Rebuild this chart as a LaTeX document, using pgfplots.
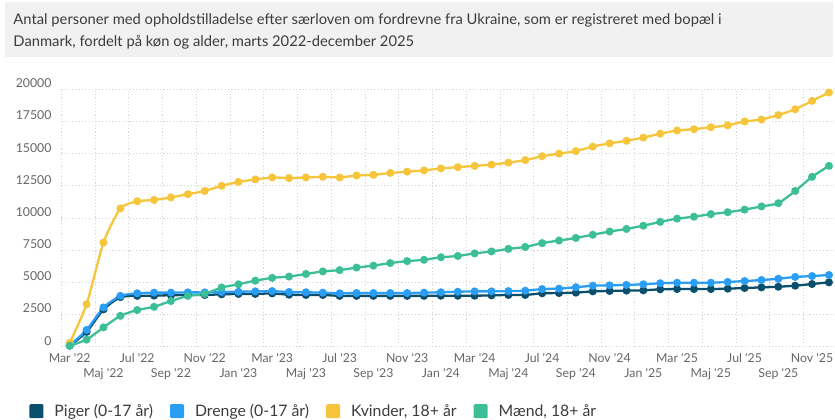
\documentclass[border=0pt]{standalone}
\usepackage{fontspec}
\setmainfont{Lato}
\usepackage{pgfplots}
\pgfplotsset{compat=1.18}
\usepackage{pgfplotstable}
\definecolor{piger}{RGB}{11,79,108}
\definecolor{drenge}{RGB}{42,157,244}
\definecolor{kvinder}{RGB}{246,197,60}
\definecolor{maend}{RGB}{60,190,151}
\definecolor{titlebg}{RGB}{241,241,241}
\definecolor{titletext}{RGB}{60,60,60}
\definecolor{tickc}{RGB}{102,102,102}
\definecolor{gridc}{RGB}{215,215,215}
\newcommand{\q}{\textquotesingle}
\pgfplotstableread{
x piger drenge kvinder maend
0 80 100 300 80
1 1150 1300 3300 550
2 2900 3050 8100 1500
3 3850 3950 10750 2400
4 3950 4150 11300 2850
5 3970 4200 11400 3100
6 4000 4200 11600 3550
7 4020 4220 11850 3950
8 4020 4220 12100 4100
9 4070 4250 12500 4600
10 4100 4270 12800 4850
11 4100 4300 13000 5130
12 4140 4320 13150 5350
13 4040 4250 13100 5450
14 4020 4230 13150 5650
15 4020 4200 13200 5850
16 3950 4150 13150 5950
17 3950 4170 13300 6150
18 3950 4170 13350 6300
19 3950 4170 13500 6500
20 3950 4170 13600 6650
21 3950 4200 13700 6750
22 3960 4230 13850 6950
23 3960 4270 13950 7050
24 3960 4300 14050 7250
25 3990 4300 14150 7400
26 4020 4320 14300 7600
27 4020 4350 14500 7750
28 4150 4480 14800 8050
29 4170 4510 15000 8250
30 4200 4620 15200 8450
31 4300 4740 15550 8700
32 4330 4770 15800 8950
33 4360 4800 16000 9150
34 4380 4850 16250 9400
35 4460 4930 16550 9700
36 4480 4970 16800 9950
37 4480 4970 16900 10100
38 4480 4970 17050 10300
39 4510 5030 17200 10450
40 4560 5100 17500 10650
41 4610 5180 17650 10900
42 4660 5280 18000 11150
43 4740 5420 18450 12100
44 4870 5490 19100 13200
45 5000 5570 19750 14050
}\data
\begin{document}
\begin{tikzpicture}[x=1bp,y=1bp]
\path[use as bounding box] (0,0) rectangle (835,419);
\fill[titlebg] (5,417) rectangle (833,362);
\node[anchor=base west, inner sep=0pt, text=titletext, font=\fontsize{14.75bp}{18bp}\selectfont] at (13.3,394) {Antal personer med opholdstilladelse efter særloven om fordrevne fra Ukraine, som er registreret med bopæl i};
\node[anchor=base west, inner sep=0pt, text=titletext, font=\fontsize{14.75bp}{18bp}\selectfont] at (13.3,372.3) {Danmark, fordelt på køn og alder, marts 2022-december 2025};
\begin{axis}[
  at={(61.3bp,72.3bp)}, anchor=south west,
  scale only axis, width=773.7bp, height=257.4bp,
  xmin=-0.5, xmax=45.36, ymin=0, ymax=20000,
  clip=false,
  axis line style={draw=none},
  major tick length=0pt, minor tick length=0pt,
  scaled y ticks=false,
  /pgf/number format/1000 sep={},
  /pgf/number format/assume math mode=true,
  xtick={0,4,...,44},
  xticklabels={Mar \q22, Jul \q22, Nov \q22, Mar \q23, Jul \q23, Nov \q23, Mar \q24, Jul \q24, Nov \q24, Mar \q25, Jul \q25, Nov \q25},
  extra x ticks={2,6,...,42},
  extra x tick labels={Maj \q22, Sep \q22, Jan \q23, Maj \q23, Sep \q23, Jan \q24, Maj \q24, Sep \q24, Jan \q25, Maj \q25, Sep \q25},
  extra x tick style={grid=none, xticklabel style={yshift=-14.9bp}},
  minor xtick={-0.5,1.5,...,43.5},
  xminorgrids=true, xmajorgrids=false,
  ytick={0,2500,...,20000}, ymajorgrids=true,
  grid style={draw=gridc, line width=0.9bp, dash pattern=on 1.2bp off 2.2bp},
  minor grid style={draw=gridc, line width=0.9bp, dash pattern=on 1.2bp off 2.2bp},
  xticklabel style={anchor=base, inner sep=0pt, yshift=-15.8bp, font=\fontsize{12.3bp}{14bp}\selectfont, text=tickc},
  yticklabel style={anchor=east, inner sep=0pt, xshift=-9.6bp, yshift=6bp, font=\fontsize{12.3bp}{14bp}\selectfont, text=tickc},
  every axis plot/.append style={line width=2.3bp, mark=*, mark size=2.8bp, smooth, tension=0.35},
  legend columns=4,
  legend image code/.code={\fill[#1, draw=none, rounded corners=1.2bp] (0bp,-7bp) rectangle (14bp,7bp);},
  legend style={at={(axis description cs:0,0)}, anchor=west, xshift=-32bp, yshift=-64.5bp, draw=none, fill=none, inner sep=0pt, font=\fontsize{15.8bp}{18bp}\selectfont, text=titletext, nodes={inner sep=0pt}, /tikz/every odd column/.append style={column sep=11bp}, /tikz/every even column/.append style={column sep=17bp}},
]
\addplot[color=piger] table[x=x,y=piger]{\data};
\addlegendentry{Piger (0-17 år)}
\addplot[color=drenge] table[x=x,y=drenge]{\data};
\addlegendentry{Drenge (0-17 år)}
\addplot[color=kvinder] table[x=x,y=kvinder]{\data};
\addlegendentry{Kvinder, 18+ år}
\addplot[color=maend] table[x=x,y=maend]{\data};
\addlegendentry{Mænd, 18+ år}
\end{axis}
\end{tikzpicture}
\end{document}
